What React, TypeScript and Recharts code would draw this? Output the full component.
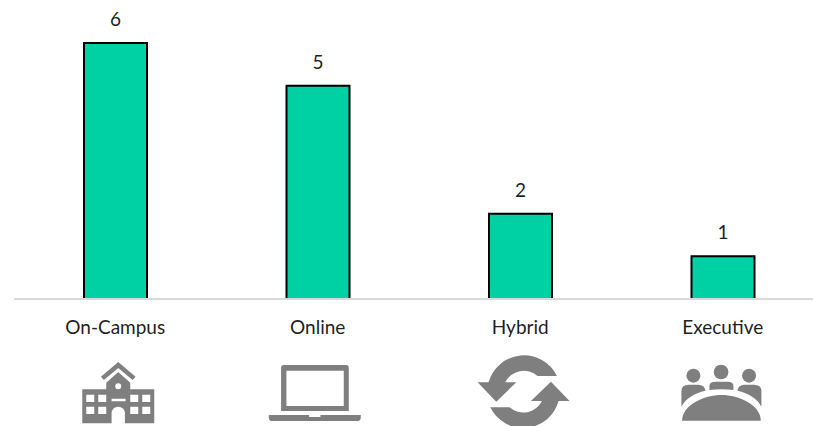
import React from 'react';
import { BarChart, Bar, XAxis, YAxis, LabelList, ReferenceLine } from 'recharts';

const categories = ['On-Campus', 'Online', 'Hybrid', 'Executive'];
const counts = [6, 5, 2, 1];

const data = categories.map((category, i) => ({ category, count: counts[i] }));

const ICON_GREY = '#7f7f7f';
const TEXT_COLOR = '#1f1f1f';
const FONT = 'Lato, "Open Sans", sans-serif';

// icons are traced at 3x; origin is the left/top of the crop they were traced from
const SchoolIcon = () => (
  <g fill={ICON_GREY}>
    <path d="M122 80 L174 36 L226 80 L217 90 L174 54 L131 90 Z" />
    <path
      fillRule="evenodd"
      d="M66 118 H138 V98 L174 66 L210 98 V118 H282 V220 H194 V190 A20 20 0 0 0 154 190 V220 H66 Z
         M78 134 V156 H102 V134 Z M114 134 V156 H138 V134 Z M78 170 V192 H102 V170 Z M114 170 V192 H138 V170 Z
         M210 134 V156 H234 V134 Z M246 134 V156 H270 V134 Z M210 170 V192 H234 V170 Z M246 170 V192 H270 V170 Z
         M154 146 V154 H196 V146 Z M174 100 A9 9 0 1 0 174 118 A9 9 0 1 0 174 100 Z"
    />
  </g>
);

const LaptopIcon = () => (
  <g fill={ICON_GREY}>
    <path
      fillRule="evenodd"
      d="M672 45 H859 Q867 45 867 53 V183 H664 V53 Q664 45 672 45 Z M680 62 V168 H852 V62 Z"
    />
    <path d="M627 195 H748 V201 H782 V195 H903 V203 Q903 213 891 213 H639 Q627 213 627 203 Z" />
  </g>
);

const RefreshIcon = () => (
  <g fill={ICON_GREY}>
    <path d="M85 97 A110 110 0 0 1 290 78 L232 78 A62 62 0 0 0 135 97 L168 97 L108 155 L52 97 Z" />
    <path d="M295 153 A110 110 0 0 1 90 172 L148 172 A62 62 0 0 0 245 153 L212 153 L272 95 L328 153 Z" />
  </g>
);

const TeamIcon = () => (
  <g fill={ICON_GREY}>
    <circle cx="698" cy="77" r="21" />
    <circle cx="781" cy="66" r="22" />
    <circle cx="865" cy="77" r="21" />
    <path d="M664 212 C664 165 730 135 782 135 C835 135 900 165 900 212 Z" />
    <path d="M662 170 V122 Q662 104 685 104 H712 Q732 104 734 122 C700 130 675 145 662 170 Z" />
    <path d="M746 120 V108 Q746 95 765 95 H800 Q818 95 818 108 V120 C795 117 770 117 746 120 Z" />
    <path d="M902 170 V122 Q902 104 879 104 H852 Q832 104 830 122 C864 130 889 145 902 170 Z" />
  </g>
);

const icons: Record<string, { Icon: React.FC; dx: number }> = {
  'On-Campus': { Icon: SchoolIcon, dx: 60 - 115 },
  Online: { Icon: LaptopIcon, dx: 60 - 318 },
  Hybrid: { Icon: RefreshIcon, dx: 460 - 520 },
  Executive: { Icon: TeamIcon, dx: 460 - 722 },
};

const CategoryTick = (props: any) => {
  const { x, payload } = props;
  const { Icon, dx } = icons[payload.value];
  return (
    <g>
      <text x={x} y={334} textAnchor="middle" fontFamily={FONT} fontSize={19} fill={TEXT_COLOR}>
        {payload.value}
      </text>
      <g transform={`translate(${x + dx} 350) scale(${1 / 3})`}>
        <Icon />
      </g>
    </g>
  );
};

const App = () => {
  return (
    <div style={{ position: 'absolute', left: 0, top: 0, width: 813, height: 426, overflow: 'hidden', background: '#fff' }}>
      <BarChart
        width={830}
        height={426}
        data={data}
        margin={{ top: 43, right: 6, bottom: 0, left: 14 }}
      >
        <YAxis hide domain={[0, 6]} />
        <XAxis
          dataKey="category"
          height={127}
          interval={0}
          axisLine={false}
          tickLine={false}
          tick={<CategoryTick />}
        />
        <Bar dataKey="count" fill="#00d1a5" stroke="#000" strokeWidth={2} barSize={63} isAnimationActive={false}>
          <LabelList
            dataKey="count"
            position="top"
            offset={17}
            fontFamily={FONT}
            fontSize={19}
            fill={TEXT_COLOR}
          />
        </Bar>
        <ReferenceLine y={0} stroke="#d9d9d9" strokeWidth={2} />
      </BarChart>
    </div>
  );
};

export default App;
